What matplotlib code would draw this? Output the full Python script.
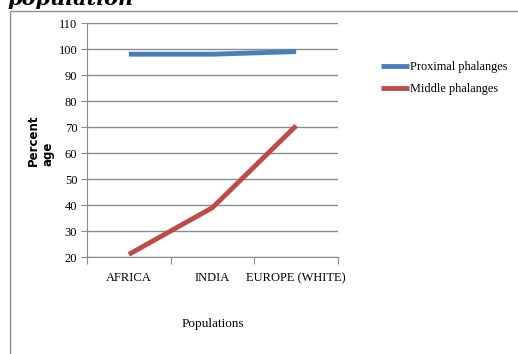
import matplotlib.pyplot as plt
from matplotlib.patches import Rectangle

populations = ['AFRICA', 'INDIA', 'EUROPE (WHITE)']
proximal = [98, 98, 99]
middle = [21, 39, 70.5]
yticks = [20, 30, 40, 50, 60, 70, 80, 90, 100, 110]

plt.rcParams['font.family'] = 'Liberation Serif'

fig = plt.figure(figsize=(5.18, 3.54), dpi=100)
W, H = 518, 354

# outer chart frame (cut off at right/bottom)
fig.patches.append(Rectangle((10 / W, -0.1), 1.0, 1.1 - 11 / H, transform=fig.transFigure,
                             fill=False, edgecolor='#8c8c8c', linewidth=1.0))

# partly visible caption at the top
fig.text(7 / W, 1 - 5 / H, 'population', fontsize=15, fontweight='bold', fontstyle='italic',
         ha='left', va='baseline', family='DejaVu Serif')

ax = fig.add_axes([87 / W, 1 - 257 / H, (338 - 87) / W, (257 - 23) / H])
x = range(len(populations))
ax.plot(x, proximal, color='#4a7ebb', linewidth=3.5, label='Proximal phalanges', solid_capstyle='butt')
ax.plot(x, middle, color='#be4b48', linewidth=3.5, label='Middle phalanges', solid_capstyle='butt')

ax.set_xlim(-0.5, 2.5)
ax.set_ylim(20, 110)
ax.set_yticks(yticks)
ax.grid(axis='y', color='#8c8c8c', linewidth=1)
ax.set_axisbelow(True)
for s in ['top', 'right']:
    ax.spines[s].set_visible(False)
ax.spines['left'].set_color('#8c8c8c')
ax.spines['bottom'].set_color('#8c8c8c')

ax.set_xticks([-0.5, 0.5, 1.5, 2.5])
ax.set_xticklabels([])
ax.set_xticks(list(x), minor=True)
ax.set_xticklabels(populations, minor=True, fontsize=9)
ax.tick_params(axis='x', which='minor', length=0, pad=11)
ax.tick_params(axis='x', which='major', length=5, color='#8c8c8c', direction='out')
ax.tick_params(axis='y', length=4, color='#8c8c8c', labelsize=9, pad=3)

ax.set_xlabel('Populations', fontsize=9.5, labelpad=24)
ax.set_ylabel('Percent\nage', fontsize=8.5, fontweight='bold', family='DejaVu Sans',
              labelpad=3, linespacing=1.15, multialignment='left')

ax.legend(loc='upper left', bbox_to_anchor=(376 / W, 1 - 56 / H), bbox_transform=fig.transFigure,
          frameon=False, fontsize=8.8, handlelength=2.3, handletextpad=0.1, labelspacing=0.85,
          borderaxespad=0)

fig.savefig('out.png', dpi=100)
